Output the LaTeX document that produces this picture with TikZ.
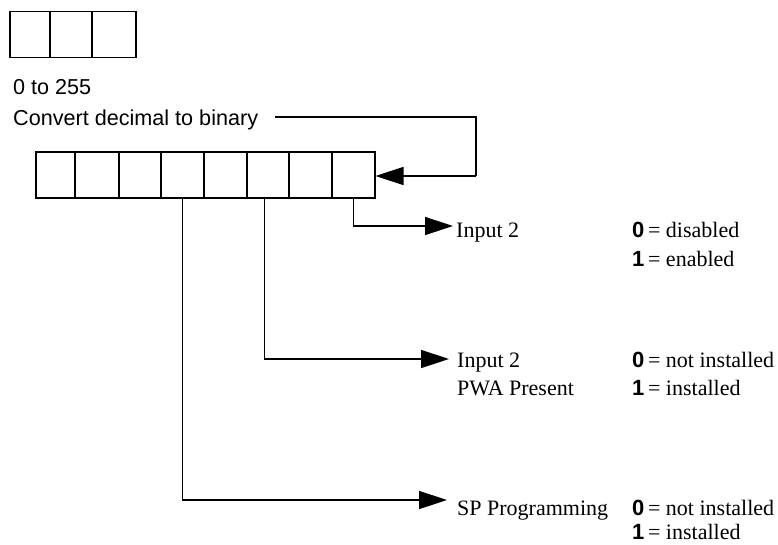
\documentclass[tikz,border=0pt]{standalone}
\usepackage{fontspec}
\setmainfont{Liberation Serif}
\setsansfont{Liberation Sans}
\usetikzlibrary{arrows.meta}
\begin{document}
\begin{tikzpicture}[x=1pt,y=-1pt,
  ln/.style={line width=1.5pt},
  cell/.style={draw,line width=1.5pt,inner sep=0pt,anchor=north west,minimum height=46pt},
  arr/.style={ln,-{Triangle[length=28pt,width=18pt]}},
  lbl/.style={inner sep=0pt,anchor=base west,font=\fontsize{22}{26}\selectfont},
  slbl/.style={inner sep=0pt,anchor=base west,font=\fontsize{21.6}{26}\selectfont\sffamily}]
\useasboundingbox (0,0) rectangle (778,544);
% small 3-cell box
\node[cell,minimum width=40pt] (s1) at (9,10.5) {};
\node[cell,minimum width=42pt] (s2) at (49,10.5) {};
\node[cell,minimum width=44pt] (s3) at (91,10.5) {};
% texts
\node[slbl] (range) at (13,94) {0 to 255};
\node[slbl] (conv) at (13,125) {Convert decimal to binary};
% 8-cell box
\node[cell,minimum width=39pt] (b1) at (35,151) {};
\node[cell,minimum width=44pt] (b2) at (74,151) {};
\node[cell,minimum width=42pt] (b3) at (118,151) {};
\node[cell,minimum width=43pt] (b4) at (160,151) {};
\node[cell,minimum width=43pt] (b5) at (203,151) {};
\node[cell,minimum width=42pt] (b6) at (246,151) {};
\node[cell,minimum width=43pt] (b7) at (288,151) {};
\node[cell,minimum width=43pt] (b8) at (331,151) {};
% feedback line
\coordinate (c0) at (275,117);
\coordinate (c1) at (476,117);
\coordinate (c2) at (476,176);
\draw[ln] (c0) -- (c1) -- (c2);
\draw[arr] (c2) -- (b8.east |- c2);
% labels
\node[lbl] (in2) at (456,237) {Input 2};
\node[lbl] (v0a) at (632,237) {{\sffamily\bfseries 0}\,= disabled};
\node[lbl] (v1a) at (632,266) {{\sffamily\bfseries 1}\,= enabled};
\node[lbl] (in2b) at (457,367) {Input 2};
\node[lbl] (pwa) at (457,395) {PWA Present};
\node[lbl] (v0b) at (632,367) {{\sffamily\bfseries 0}\,= not installed};
\node[lbl] (v1b) at (632,395) {{\sffamily\bfseries 1}\,= installed};
\node[lbl] (sp) at (457,515) {SP Programming};
\node[lbl] (v0c) at (632,515) {{\sffamily\bfseries 0}\,= not installed};
\node[lbl] (v1c) at (632,539) {{\sffamily\bfseries 1}\,= installed};
% connectors
\coordinate (t1) at (453,226);
\coordinate (t2) at (449,359);
\coordinate (t3) at (447,500);
\coordinate (d2) at (264.5,197);
\draw[arr] (b8.south) |- (t1);
\draw[arr] (d2) |- (t2);
\draw[arr] (b4.south) |- (t3);
\end{tikzpicture}
\end{document}
